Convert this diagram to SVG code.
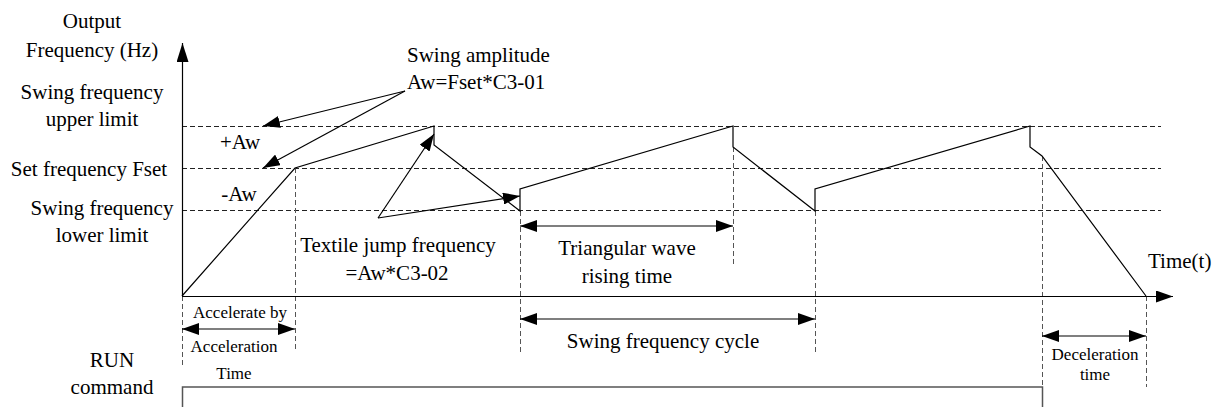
<svg xmlns="http://www.w3.org/2000/svg" width="1214" height="407" viewBox="0 0 1214 407">
<style>
.t{font-family:"Liberation Serif","Times New Roman",serif;font-size:21px;fill:#000}
.s{font-family:"Liberation Serif","Times New Roman",serif;font-size:17px;fill:#000}
.hd{stroke:#222;stroke-width:1;stroke-dasharray:5,3;fill:none;shape-rendering:crispEdges}
.vd{stroke:#555;stroke-width:1;stroke-dasharray:5,3;fill:none;shape-rendering:crispEdges}
.ln{stroke:#000;stroke-width:1.2;fill:none}
.ar{stroke:#000;stroke-width:1.2;fill:none}
</style>
<defs>
<marker id="ah" markerUnits="userSpaceOnUse" markerWidth="17" markerHeight="12" refX="17" refY="6" orient="auto-start-reverse">
<path d="M0,0 L17,6 L0,12 z" fill="#000"/>
</marker>
<marker id="ahy" markerUnits="userSpaceOnUse" markerWidth="19" markerHeight="12" refX="19" refY="6" orient="auto">
<path d="M0,0 L19,6 L0,12 z" fill="#000"/>
</marker>
</defs>
<rect width="1214" height="407" fill="#fff"/>

<g id="grid">
<line class="hd" x1="182" y1="126.5" x2="1161" y2="126.5"/>
<line class="hd" x1="182" y1="168.5" x2="1161" y2="168.5"/>
<line class="hd" x1="182" y1="210.5" x2="1161" y2="210.5"/>
<line class="vd" x1="182.5" y1="296" x2="182.5" y2="367"/>
<line class="vd" x1="295.5" y1="168" x2="295.5" y2="352"/>
<line class="vd" x1="520.5" y1="211" x2="520.5" y2="352"/>
<line class="vd" x1="733.5" y1="147" x2="733.5" y2="266"/>
<line class="vd" x1="815.5" y1="211" x2="815.5" y2="352"/>
<line class="vd" x1="1042.5" y1="156" x2="1042.5" y2="407"/>
<line class="vd" x1="1146.5" y1="296" x2="1146.5" y2="387"/>
</g>

<g id="axes">
<line class="ln" x1="182.5" y1="296" x2="182.5" y2="43" marker-end="url(#ahy)"/>
<line class="ln" x1="182" y1="296.5" x2="1173" y2="296.5" marker-end="url(#ah)"/>
</g>

<g id="waveform">
<polyline class="ln" points="182,296 295,168 434,126 434,145 520,211 520,189 733,126 733,147 815,211 815,189 1030,126 1030,147 1042,156 1146,296"/>
</g>

<g id="run-signal">
<polyline points="182.5,407 182.5,387 1042.5,387 1042.5,407" fill="none" stroke="#555" stroke-width="1.5"/>
</g>

<g id="connectors">
<line class="ar" x1="405" y1="91" x2="263" y2="126" marker-end="url(#ah)"/>
<line class="ar" x1="405" y1="91" x2="263" y2="168" marker-end="url(#ah)"/>
<line class="ar" x1="378" y1="218" x2="434" y2="134" marker-end="url(#ah)"/>
<line class="ar" x1="378" y1="218" x2="520" y2="196" marker-end="url(#ah)"/>
<line class="ar" x1="520" y1="226" x2="733" y2="226" marker-start="url(#ah)" marker-end="url(#ah)"/>
<line class="ar" x1="520" y1="319" x2="815" y2="319" marker-start="url(#ah)" marker-end="url(#ah)"/>
<line class="ar" x1="182" y1="329" x2="295" y2="329" marker-start="url(#ah)" marker-end="url(#ah)"/>
<line class="ar" x1="1042" y1="336" x2="1146" y2="336" marker-start="url(#ah)" marker-end="url(#ah)"/>
</g>

<g id="labels-left">
<text class="t" x="92" y="28" text-anchor="middle">Output</text>
<text class="t" x="92" y="57" text-anchor="middle">Frequency (Hz)</text>
<text class="t" x="92" y="99" text-anchor="middle">Swing frequency</text>
<text class="t" x="92" y="126" text-anchor="middle">upper limit</text>
<text class="t" x="89" y="176" text-anchor="middle">Set frequency Fset</text>
<text class="t" x="102" y="215" text-anchor="middle">Swing frequency</text>
<text class="t" x="102" y="242" text-anchor="middle">lower limit</text>
<text class="t" x="112" y="367" text-anchor="middle">RUN</text>
<text class="t" x="112" y="394" text-anchor="middle">command</text>
</g>

<g id="labels-plot">
<text class="t" x="240" y="149" text-anchor="middle">+Aw</text>
<text class="t" x="239" y="201" text-anchor="middle">-Aw</text>
<text class="t" x="407" y="62">Swing amplitude</text>
<text class="t" x="407" y="89">Aw=Fset*C3-01</text>
<text class="t" x="398" y="252" text-anchor="middle">Textile jump frequency</text>
<text class="t" x="397" y="280" text-anchor="middle">=Aw*C3-02</text>
<text class="t" x="627" y="255" text-anchor="middle">Triangular wave</text>
<text class="t" x="627" y="283" text-anchor="middle">rising time</text>
<text class="t" x="663" y="348" text-anchor="middle">Swing frequency cycle</text>
<text class="t" x="1148" y="268">Time(t)</text>
<text class="s" x="240" y="318" text-anchor="middle">Accelerate by</text>
<text class="s" x="234" y="352" text-anchor="middle">Acceleration</text>
<text class="s" x="234" y="379" text-anchor="middle">Time</text>
<text class="s" x="1095" y="360" text-anchor="middle">Deceleration</text>
<text class="s" x="1095" y="380" text-anchor="middle">time</text>
</g>
</svg>
